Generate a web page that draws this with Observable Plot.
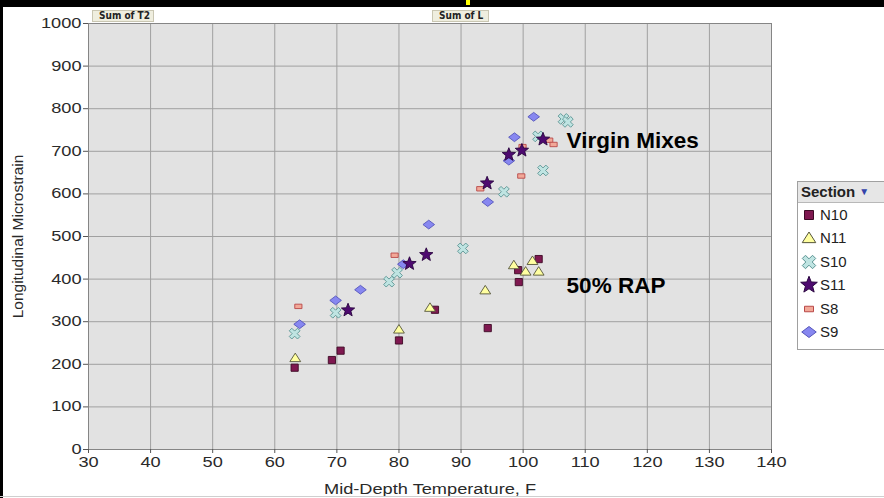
<!DOCTYPE html>
<html>
<head>
<meta charset="utf-8">
<script src="https://cdn.jsdelivr.net/npm/d3@7"></script>
<script src="https://cdn.jsdelivr.net/npm/@observablehq/plot@0.6"></script>
<style>
  html, body { margin: 0; padding: 0; background: #fff; overflow: hidden; }
  #wrap { position: relative; width: 884px; height: 498px; overflow: hidden; background: #fff; font-family: "Liberation Sans", Arial, sans-serif; }
  #chart { position: absolute; left: 0; top: 0; }
  .bar-top { position: absolute; left: 0; top: 0; width: 884px; height: 7px; background: #000; }
  .bar-left { position: absolute; left: 0; top: 0; width: 3px; height: 498px; background: #000; }
  .line-bottom { position: absolute; left: 0; top: 496px; width: 884px; height: 1px; background: #cfcfcf; }
  .marker { position: absolute; left: 466px; top: 0; width: 4px; height: 5px; background: #ffff00; }
  .field { position: absolute; top: 10px; height: 12px; box-sizing: border-box; background: #efeedf; border: 1px solid #c9c6b2;
           font: bold 10px "Liberation Sans Narrow", "DejaVu Sans Condensed", sans-serif; color: #222; line-height: 10px; padding: 0 0 0 6px; }
  #legend { position: absolute; left: 797px; top: 181px; width: 100px; height: 169px; box-sizing: border-box; border: 1px solid #a0a0a0; background: #fff; }
  #legend .head { height: 20px; background: #e6e6e6; border-bottom: 1px solid #b8b8b8; font: bold 15px "Liberation Sans", Arial, sans-serif; color: #222; line-height: 20px; padding-left: 3px; }
  #legend .head span { color: #3344aa; font-size: 10px; vertical-align: 2px; }
  #legend .item { position: absolute; left: 0; height: 20px; font: 15px "Liberation Sans", Arial, sans-serif; color: #222; line-height: 20px; }
  #legend .item svg { position: absolute; left: 1px; top: 0; }
  #legend .item b { font-weight: normal; position: absolute; left: 22px; top: 0; white-space: nowrap; }
</style>
</head>
<body>
<div id="wrap">
  <div id="chart"></div>
  <div class="bar-top"></div>
  <div class="bar-left"></div>
  <div class="marker"></div>
  <div class="line-bottom"></div>
  <div class="field" style="left:92px;width:62px;">Sum of T2</div>
  <div class="field" style="left:432px;width:57px;">Sum of L</div>
  <div id="legend"><div class="head">Section <span>&#9660;</span></div></div>
</div>
<script>
// Axis ticks
const xTicks = [30, 40, 50, 60, 70, 80, 90, 100, 110, 120, 130, 140];
const yTicks = [0, 100, 200, 300, 400, 500, 600, 700, 800, 900, 1000];

// Mid-depth temperature (F) and longitudinal microstrain, per test section
const n10Temp   = [63.2, 69.2, 70.6, 80.0, 85.8, 94.3, 99.2, 99.3, 102.5];
const n10Strain = [192, 210, 232, 256, 328, 285, 421, 393, 447];

const n11Temp   = [63.3, 80.0, 85.0, 93.9, 98.5, 100.4, 101.5, 102.5];
const n11Strain = [215, 282, 333, 374, 433, 418, 443, 418];

const s10Temp   = [63.2, 69.8, 78.4, 79.7, 90.3, 96.9, 103.2, 102.4, 106.5, 107.2];
const s10Strain = [272, 321, 394, 415, 472, 605, 655, 735, 776, 769];

const s11Temp   = [71.8, 81.7, 84.4, 94.2, 97.7, 99.8, 103.2];
const s11Strain = [327, 436, 457, 625, 692, 702, 728];

const s8Temp    = [63.8, 79.3, 93.1, 99.7, 99.9, 104.2, 104.9];
const s8Strain  = [336, 456, 612, 642, 711, 726, 716];

const s9Temp    = [64.0, 69.8, 73.8, 80.7, 84.8, 94.3, 97.7, 98.6, 101.7];
const s9Strain  = [294, 350, 375, 435, 528, 581, 678, 733, 781];

const sectionNames = ["N10", "N11", "S10", "S11", "S8", "S9"];
const groupLabels = [
  {text: "Virgin Mixes", temp: 107, strain: 724},
  {text: "50% RAP", temp: 107, strain: 384}
];

// Marker shapes (fixed pixel sizes)
const squareSym = {draw(c) { c.rect(-3.6, -3.6, 7.2, 7.2); }};
const triangleSym = {draw(c) { c.moveTo(0, -4.8); c.lineTo(5.4, 3.7); c.lineTo(-5.4, 3.7); c.closePath(); }};
const crossSym = {draw(c) {
  const w = 1.8, L = 5.8;
  const pts = [[-w,-L],[w,-L],[w,-w],[L,-w],[L,w],[w,w],[w,L],[-w,L],[-w,w],[-L,w],[-L,-w],[-w,-w]];
  const k = Math.SQRT1_2;
  pts.forEach(([x, y], i) => {
    const rx = (x - y) * k, ry = (x + y) * k;
    i ? c.lineTo(rx, ry) : c.moveTo(rx, ry);
  });
  c.closePath();
}};
const starSym = {draw(c) {
  const R = 7, r = 3;
  for (let i = 0; i < 10; i++) {
    const a = -Math.PI / 2 + i * Math.PI / 5, rad = i % 2 ? r : R;
    const x = Math.cos(a) * rad, y = Math.sin(a) * rad;
    i ? c.lineTo(x, y) : c.moveTo(x, y);
  }
  c.closePath();
}};
const rectSym = {draw(c) { c.rect(-3.6, -2.2, 7.2, 4.4); }};
const diamondSym = {draw(c) { c.moveTo(0, -4.4); c.lineTo(5.8, 0); c.lineTo(0, 4.4); c.lineTo(-5.8, 0); c.closePath(); }};

const series = [
  {name: "N10", temp: n10Temp, strain: n10Strain, symbol: squareSym,   fill: "#7f1850", stroke: "#3d0a25"},
  {name: "N11", temp: n11Temp, strain: n11Strain, symbol: triangleSym, fill: "#ffffa0", stroke: "#55553a"},
  {name: "S10", temp: s10Temp, strain: s10Strain, symbol: crossSym,    fill: "#bfe4e2", stroke: "#5b9493"},
  {name: "S8",  temp: s8Temp,  strain: s8Strain,  symbol: rectSym,     fill: "#f2a898", stroke: "#b84848"},
  {name: "S9",  temp: s9Temp,  strain: s9Strain,  symbol: diamondSym,  fill: "#8787f0", stroke: "#5656bb"},
  {name: "S11", temp: s11Temp, strain: s11Strain, symbol: starSym,     fill: "#4e0a70", stroke: "#2a0540"}
];

const dotMarks = series.map(s => Plot.dot(s.temp.map((t, i) => ({t, v: s.strain[i]})), {
  x: "t", y: "v", symbol: s.symbol, r: 5, fill: s.fill, stroke: s.stroke, strokeWidth: 0.9
}));

const chart = Plot.plot({
  width: 884,
  height: 498,
  marginLeft: 88,
  marginRight: 113,
  marginTop: 23,
  marginBottom: 49,
  style: {fontFamily: "'Liberation Sans', Arial, sans-serif", fontSize: "14px", color: "#2a2a2a", background: "transparent"},
  x: {domain: [30, 140]},
  y: {domain: [0, 1000]},
  marks: [
    Plot.frame({fill: "#e2e2e2", stroke: null}),
    Plot.gridX(xTicks, {stroke: "#a0a0a0", strokeOpacity: 1}),
    Plot.gridY(yTicks, {stroke: "#a0a0a0", strokeOpacity: 1}),
    Plot.frame({stroke: "#858585"}),
    Plot.axisX(xTicks, {tickSize: 4, tickPadding: 4, label: null, stroke: "#555", tickFormat: d => String(d)}),
    Plot.axisY(yTicks, {tickSize: 5, tickPadding: 2, label: null, stroke: "#555", tickFormat: d => String(d)}),
    Plot.text(["Mid-Depth Temperature, F"], {frameAnchor: "bottom", dy: 40, lineAnchor: "middle", textAnchor: "middle", fontSize: 14, fill: "#2a2a2a"}),
    Plot.text(["Longitudinal Microstrain"], {frameAnchor: "left", dx: -70, rotate: -90, textAnchor: "middle", lineAnchor: "middle", fontSize: 15.5, fill: "#2a2a2a"}),
    ...dotMarks,
    Plot.text(groupLabels, {x: "temp", y: "strain", text: "text", textAnchor: "start", fontSize: 22.5, fontWeight: "bold", fill: "#000"})
  ]
});
document.getElementById("chart").appendChild(chart);

// Horizontally widen the axis texts
const widen = 1.3;
chart.querySelectorAll("text").forEach(t => {
  const s = t.textContent;
  if (/^\d+$/.test(s) || s === "Mid-Depth Temperature, F") {
    const len = t.getComputedTextLength();
    t.setAttribute("textLength", len * widen);
    t.setAttribute("lengthAdjust", "spacingAndGlyphs");
  }
});

// Legend
const legend = document.getElementById("legend");
sectionNames.forEach((name, i) => {
  const s = series.find(d => d.name === name);
  const p = d3.path();
  s.symbol.draw(p, 0);
  const item = document.createElement("div");
  item.className = "item";
  item.style.top = (23 + i * 23.4) + "px";
  item.innerHTML = `<svg width="20" height="20"><path d="${p.toString()}" transform="translate(10,10) scale(1.25)" fill="${s.fill}" stroke="${s.stroke}" stroke-width="0.8"/></svg><b>${name}</b>`;
  legend.appendChild(item);
});
</script>
</body>
</html>
